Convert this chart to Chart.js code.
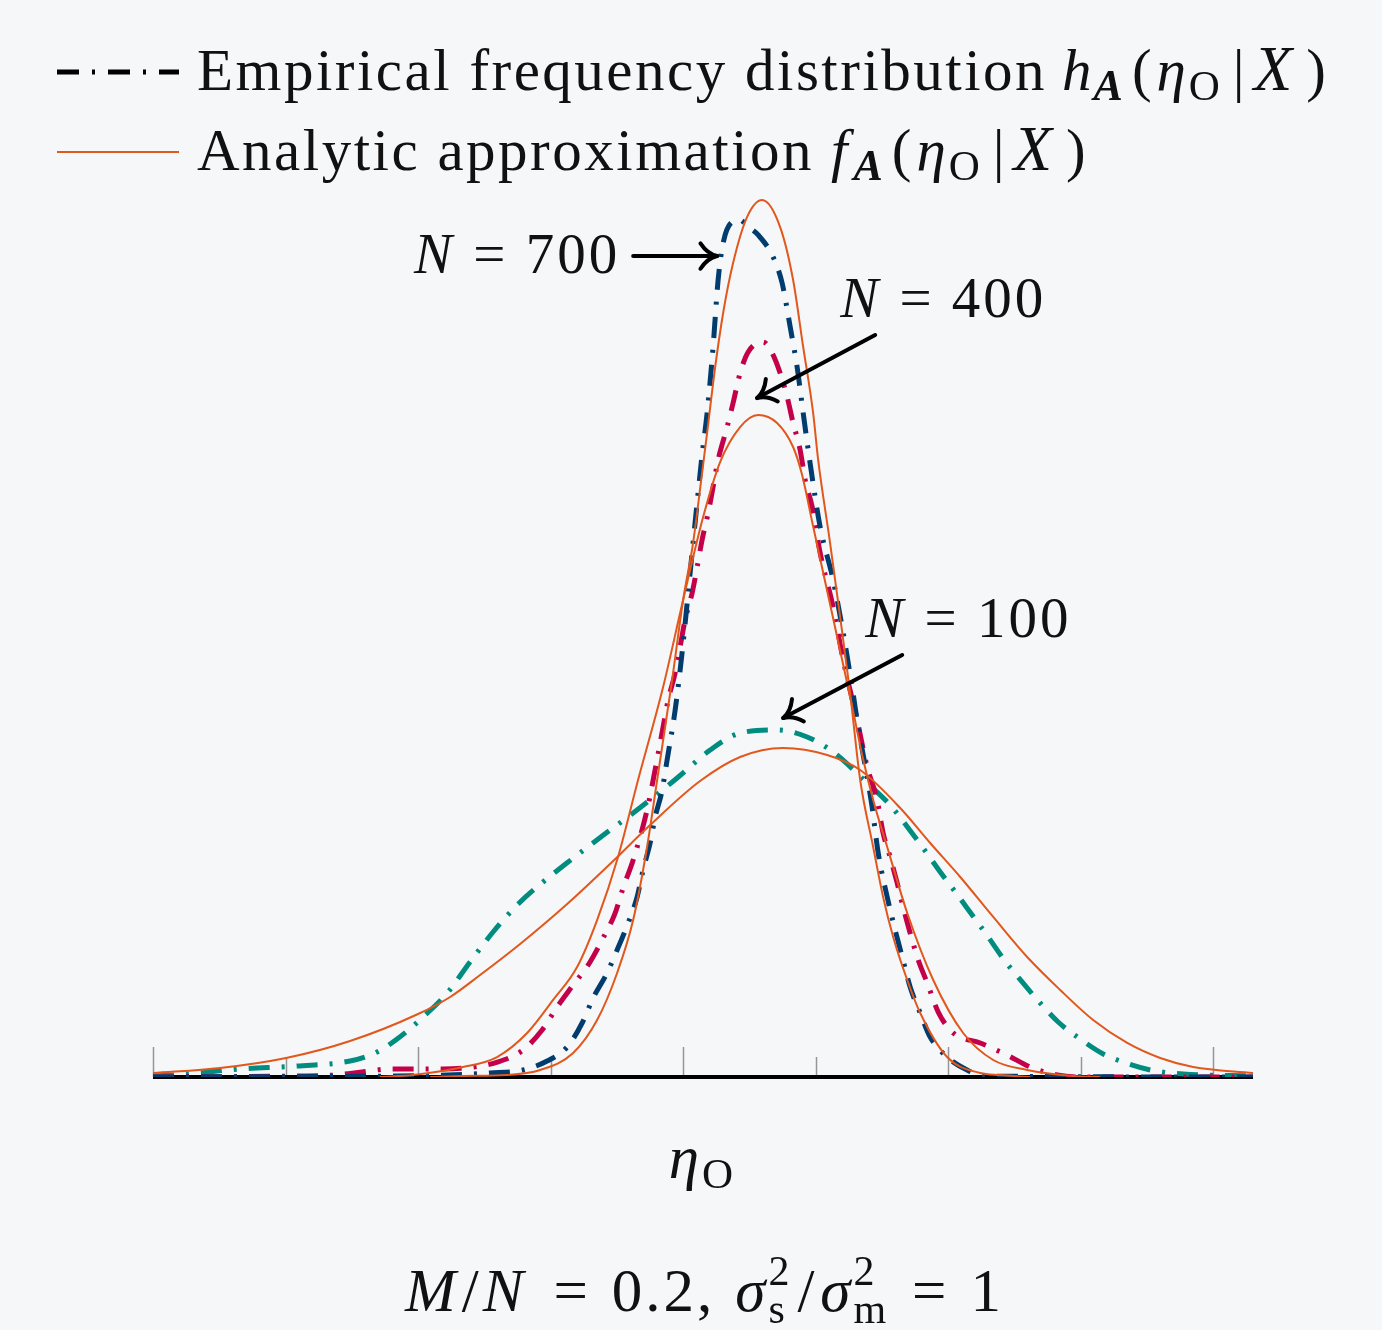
<!DOCTYPE html>
<html lang="en">
<head>
<meta charset="UTF-8">
<title>Empirical vs analytic distribution</title>
<script src="https://cdn.jsdelivr.net/npm/chart.js"></script>
<style>
  html, body { margin: 0; padding: 0; background: #f5f7f9; }
  #chart { display: block; }
</style>
</head>
<body>
<canvas id="chart" width="1382" height="1330"></canvas>
<script>
// eta_O axis in tick units (one tick per unit), density as % of plot height
const tickValues = [0, 1, 2, 3, 4, 5, 6, 7, 8];
const xMax = 8.3;
const yMax = 100;

// N = 100, empirical
const n100EmpX = [0,0.257,0.657,1.087,1.487,1.691,1.842,2.030,2.226,2.392,2.566,2.755,2.943,3.162,3.389,3.623,3.955,4.204,4.430,4.709,4.936,5.132,5.389,5.562,5.698,5.811,5.940,6.060,6.181,6.302,6.423,6.558,6.694,6.830,6.996,7.170,7.366,7.562,7.774,8.302];
const n100EmpY = [0.11,0.33,0.89,1.22,1.78,2.78,4.22,6.56,9.44,12.78,16.11,19.22,21.67,24.22,26.78,29.33,33.22,36.33,38.22,38.56,37.78,36.11,32.67,30.22,27.67,25.44,22.78,20.44,18.0,15.56,13.0,10.56,8.22,6.11,4.22,2.56,1.44,0.67,0.33,0.11];

// N = 100, analytic
const n100FitX = [0,0.506,1.004,1.487,2.0,2.242,2.468,2.770,3.125,3.472,3.751,4.128,4.430,4.755,5.087,5.336,5.638,5.864,6.091,6.340,6.596,6.845,7.094,7.351,7.600,7.849,8.302];
const n100FitY = [0.44,1.0,2.11,4.0,7.0,8.89,11.33,14.78,19.22,24.0,28.0,32.89,35.56,36.56,35.78,34.11,29.89,26.0,22.22,17.78,13.33,9.67,6.33,3.78,2.11,1.11,0.44];

// N = 400, empirical
const n400EmpX = [0,1.087,1.374,1.577,1.789,2.189,2.415,2.604,2.792,2.936,3.049,3.170,3.298,3.396,3.487,3.547,3.623,3.728,3.774,3.849,3.887,3.940,3.977,4.015,4.068,4.106,4.143,4.189,4.226,4.264,4.332,4.377,4.430,4.491,4.604,4.672,4.732,4.785,4.830,4.883,4.921,4.974,5.034,5.132,5.208,5.313,5.389,5.464,5.509,5.562,5.615,5.660,5.713,5.774,5.842,5.925,6.038,6.242,6.445,6.619,6.823,6.996,8.302];
const n400EmpY = [0,0.11,0.22,0.56,0.89,0.89,1.11,1.67,3.0,5.22,7.78,10.22,12.78,15.44,18.22,21.0,24.11,29.67,33.0,38.89,41.89,44.89,47.78,50.78,53.78,56.67,59.67,62.67,65.56,68.56,72.22,74.89,78.22,80.56,81.67,80.44,78.22,75.56,72.67,69.67,66.33,63.33,58.22,52.22,46.33,39.67,34.44,30.78,27.11,24.44,21.56,18.89,16.0,13.0,10.44,7.22,4.89,3.78,2.44,1.11,0.22,0,0];

// N = 400, analytic
const n400FitX = [1.713,1.962,2.340,2.596,2.823,3.019,3.200,3.351,3.509,3.660,3.849,4.0,4.151,4.279,4.430,4.566,4.709,4.830,4.898,4.974,5.049,5.125,5.200,5.275,5.351,5.434,5.540,5.691,5.887,6.113,6.340,6.596,6.943,7.147];
const n400FitY = [0,0.22,1.11,2.22,4.89,8.56,12.22,17.44,24.44,33.0,43.33,53.0,62.22,68.33,72.22,73.56,72.67,70.0,66.89,61.67,56.56,51.44,46.33,41.22,35.78,30.78,25.56,18.22,10.78,4.89,1.89,0.78,0.11,0];

// N = 700, empirical
const n700EmpX = [0,1.842,2.219,2.543,2.792,2.974,3.125,3.238,3.321,3.426,3.502,3.585,3.653,3.698,3.751,3.789,3.842,3.879,3.940,3.992,4.038,4.075,4.113,4.143,4.181,4.226,4.264,4.302,4.370,4.430,4.483,4.566,4.679,4.747,4.808,4.860,4.906,4.958,5.034,5.132,5.208,5.275,5.321,5.389,5.426,5.472,5.540,5.600,5.653,5.713,5.789,5.864,5.992,6.143,6.279,8.302];
const n700EmpY = [0,0.11,0.22,0.44,0.78,1.78,3.33,6.0,8.78,11.56,14.11,17.11,20.0,23.0,26.0,28.89,31.89,35.22,40.78,47.11,53.78,59.33,64.89,69.11,73.78,81.11,88.56,92.67,95.0,95.22,94.56,93.56,91.11,88.22,83.33,78.89,73.78,68.22,61.11,55.22,49.33,43.33,38.89,33.33,30.0,24.89,20.0,16.33,13.33,10.0,7.11,4.44,2.22,0.78,0.11,0];

// N = 700, analytic
const n700FitX = [2.091,2.340,2.672,2.921,3.170,3.351,3.502,3.623,3.728,3.804,3.917,4.0,4.075,4.143,4.181,4.242,4.302,4.377,4.483,4.596,4.732,4.830,4.906,4.981,5.019,5.109,5.185,5.260,5.336,5.434,5.509,5.585,5.691,5.789,5.992,6.242,6.392,6.619];
const n700FitY = [0,0.11,0.22,0.78,2.67,6.33,11.56,17.44,25.56,33.0,44.11,53.0,59.33,67.11,71.56,78.89,84.89,90.44,95.56,97.44,94.44,88.56,81.11,73.78,68.56,59.33,51.11,42.67,33.0,25.56,20.0,15.56,10.78,7.11,2.22,0.44,0.22,0];

// "N = ..." labels and their arrows, in data units
const callouts = [
    { n: '700', tx: 3.525, ty: 89.33, align: 'right', ax: 3.623, ay: 91.22, bx: 4.257, by: 91.22 },
    { n: '400', tx: 5.185, ty: 84.44, align: 'left',  ax: 5.449, ay: 82.44, bx: 4.558, by: 75.44 },
    { n: '100', tx: 5.374, ty: 48.89, align: 'left',  ax: 5.653, ay: 46.89, bx: 4.755, by: 39.89 }
];

const navy = '#003c6e';
const crimson = '#c4004b';
const teal = '#008d80';
const orange = '#e2571c';
const bg = '#f5f7f9';
const dashDot = [21, 12, 3, 12];
const serif = '"Liberation Serif", "DejaVu Serif", serif';

function font(size, style) {
    return (style ? style + ' ' : '') + size + 'px ' + serif;
}

function pts(xs, ys) {
    return xs.map((x, i) => ({ x: x, y: ys[i] }));
}

// draw a row of text pieces (mixed italic / upright / sub / sup)
function drawRuns(ctx, runs, x, y, align) {
    const widths = runs.map(r => {
        let w;
        if (r.stack) {
            w = Math.max(...r.stack.map(s => { ctx.font = s.f; return ctx.measureText(s.t).width; }));
        } else {
            ctx.font = r.f;
            ctx.letterSpacing = r.ls || '0px';
            w = ctx.measureText(r.t).width;
            ctx.letterSpacing = '0px';
        }
        return w + (r.pre || 0) + (r.pad || 0);
    });
    const total = widths.reduce((a, b) => a + b, 0);
    let cx = align === 'center' ? x - total / 2 : align === 'right' ? x - total : x;
    ctx.textAlign = 'left';
    ctx.textBaseline = 'alphabetic';
    ctx.fillStyle = '#111';
    runs.forEach((r, i) => {
        const px = cx + (r.pre || 0);
        if (r.stack) {
            r.stack.forEach(s => { ctx.font = s.f; ctx.fillText(s.t, px, y + s.dy); });
        } else {
            ctx.font = r.f;
            ctx.letterSpacing = r.ls || '0px';
            ctx.fillText(r.t, px, y + (r.dy || 0));
            ctx.letterSpacing = '0px';
        }
        cx += widths[i];
    });
}

const background = {
    id: 'background',
    beforeDraw(chart) {
        const ctx = chart.ctx;
        ctx.save();
        ctx.fillStyle = bg;
        ctx.fillRect(0, 0, chart.width, chart.height);
        ctx.restore();
    }
};

// axis line with alternating long and short ticks
const etaAxis = {
    id: 'etaAxis',
    beforeDatasetsDraw(chart) {
        const ctx = chart.ctx, xs = chart.scales.x, ys = chart.scales.y;
        const y0 = ys.getPixelForValue(0);
        ctx.save();
        ctx.strokeStyle = '#959595';
        ctx.lineWidth = 1.5;
        tickValues.forEach(t => {
            const px = Math.round(xs.getPixelForValue(t)) + 0.5;
            ctx.beginPath();
            ctx.moveTo(px, y0);
            ctx.lineTo(px, y0 - (t % 2 === 0 ? 30 : 20));
            ctx.stroke();
        });
        ctx.strokeStyle = '#000';
        ctx.lineWidth = 4;
        ctx.beginPath();
        ctx.moveTo(chart.chartArea.left, y0);
        ctx.lineTo(chart.chartArea.right, y0);
        ctx.stroke();
        ctx.restore();
    }
};

function arrow(ctx, x1, y1, x2, y2) {
    const a = Math.atan2(y2 - y1, x2 - x1);
    ctx.beginPath();
    ctx.moveTo(x1, y1);
    ctx.lineTo(x2 - 2 * Math.cos(a), y2 - 2 * Math.sin(a));
    ctx.stroke();
    [-1, 1].forEach(s => {
        const b = a + Math.PI + s * 0.65;
        const ex = x2 + 21 * Math.cos(b), ey = y2 + 21 * Math.sin(b);
        const c = a + Math.PI + s * 0.22;
        ctx.beginPath();
        ctx.moveTo(x2, y2);
        ctx.quadraticCurveTo(x2 + 10 * Math.cos(c), y2 + 10 * Math.sin(c), ex, ey);
        ctx.stroke();
    });
}

// h_A(eta_O | X) style function of the state
function mathTail(name, B, S) {
    return [
        { t: name, f: font(B, 'italic'), pad: name === 'f' ? 6 : 2 },
        { t: 'A', f: font(S + 3, 'italic bold'), dy: 10, pad: 9 },
        { t: '(', f: font(B), pad: 5 },
        { t: 'η', f: font(B, 'italic'), pad: 3 },
        { t: 'O', f: font(S + 2), dy: 10, pad: 9 },
        { t: '|', f: font(B), pre: 4, pad: 9 },
        { t: 'X', f: font(B + 4, 'italic'), pad: 14 },
        { t: ')', f: font(B) }
    ];
}

const labels = {
    id: 'labels',
    afterDraw(chart) {
        const ctx = chart.ctx, xs = chart.scales.x, ys = chart.scales.y;
        const ca = chart.chartArea;
        const mid = (ca.left + ca.right) / 2;
        ctx.save();

        // legend samples
        ctx.lineWidth = 5;
        ctx.strokeStyle = '#000';
        ctx.setLineDash([22, 13, 3, 13]);
        ctx.beginPath(); ctx.moveTo(57, 72); ctx.lineTo(179, 72); ctx.stroke();
        ctx.setLineDash([]);
        ctx.lineWidth = 2;
        ctx.strokeStyle = orange;
        ctx.beginPath(); ctx.moveTo(57, 152); ctx.lineTo(179, 152); ctx.stroke();

        const B = 59, S = 41;
        drawRuns(ctx, [{ t: 'Empirical frequency distribution', f: font(B), ls: '2.5px', pad: 15 }]
            .concat(mathTail('h', B, S)), 197, 90, 'left');
        drawRuns(ctx, [{ t: 'Analytic approximation', f: font(B), ls: '2.5px', pad: 17 }]
            .concat(mathTail('f', B, S)), 197, 170, 'left');

        // callouts
        ctx.strokeStyle = '#000';
        ctx.lineWidth = 4;
        ctx.lineCap = 'round';
        callouts.forEach(c => {
            drawRuns(ctx, [
                { t: 'N', f: font(57, 'italic'), pad: 4 },
                { t: ' = ' + c.n, f: font(57), ls: '3px' }
            ], xs.getPixelForValue(c.tx), ys.getPixelForValue(c.ty), c.align);
            arrow(ctx, xs.getPixelForValue(c.ax), ys.getPixelForValue(c.ay),
                  xs.getPixelForValue(c.bx), ys.getPixelForValue(c.by));
        });

        // axis title
        drawRuns(ctx, [
            { t: 'η', f: font(B + 2, 'italic'), pad: 3 },
            { t: 'O', f: font(S + 2), dy: 10 }
        ], mid - 2, 1178, 'center');

        // parameter line
        const P = 61, Q = 42;
        drawRuns(ctx, [
            { t: 'M', f: font(P, 'italic'), pad: 4 },
            { t: '/', f: font(P), pre: 2, pad: 4 },
            { t: 'N', f: font(P, 'italic'), pad: 6 },
            { t: '=', f: font(P), pre: 24, pad: 24 },
            { t: '0.2,', f: font(P), ls: '3px', pad: 20 },
            { t: 'σ', f: font(P, 'italic'), pad: 3 },
            { stack: [{ t: '2', f: font(Q), dy: -26 }, { t: 's', f: font(Q), dy: 12 }], pad: 6 },
            { t: '/', f: font(P), pre: 2, pad: 6 },
            { t: 'σ', f: font(P, 'italic'), pad: 3 },
            { stack: [{ t: '2', f: font(Q), dy: -26 }, { t: 'm', f: font(Q), dy: 12 }], pad: 6 },
            { t: '=', f: font(P), pre: 20, pad: 24 },
            { t: '1', f: font(P) }
        ], mid, 1311, 'center');
        ctx.restore();
    }
};

function empirical(xs, ys, color) {
    return {
        data: pts(xs, ys), borderColor: color, borderWidth: 5,
        borderDash: dashDot, borderCapStyle: 'butt', pointRadius: 0,
        cubicInterpolationMode: 'monotone', fill: false
    };
}
function analytic(xs, ys) {
    return {
        data: pts(xs, ys), borderColor: orange, borderWidth: 2,
        pointRadius: 0, cubicInterpolationMode: 'monotone', fill: false
    };
}

new Chart(document.getElementById('chart'), {
    type: 'line',
    data: {
        datasets: [
            analytic(n700FitX, n700FitY),
            analytic(n400FitX, n400FitY),
            analytic(n100FitX, n100FitY),
            empirical(n700EmpX, n700EmpY, navy),
            empirical(n400EmpX, n400EmpY, crimson),
            empirical(n100EmpX, n100EmpY, teal)
        ]
    },
    options: {
        responsive: false,
        animation: false,
        devicePixelRatio: 1,
        layout: { padding: { left: 153, right: 129, top: 177, bottom: 253 } },
        scales: {
            x: { type: 'linear', min: 0, max: xMax, display: false },
            y: { type: 'linear', min: 0, max: yMax, display: false }
        },
        plugins: { legend: { display: false }, tooltip: { enabled: false } }
    },
    plugins: [background, etaAxis, labels]
});
</script>
</body>
</html>
